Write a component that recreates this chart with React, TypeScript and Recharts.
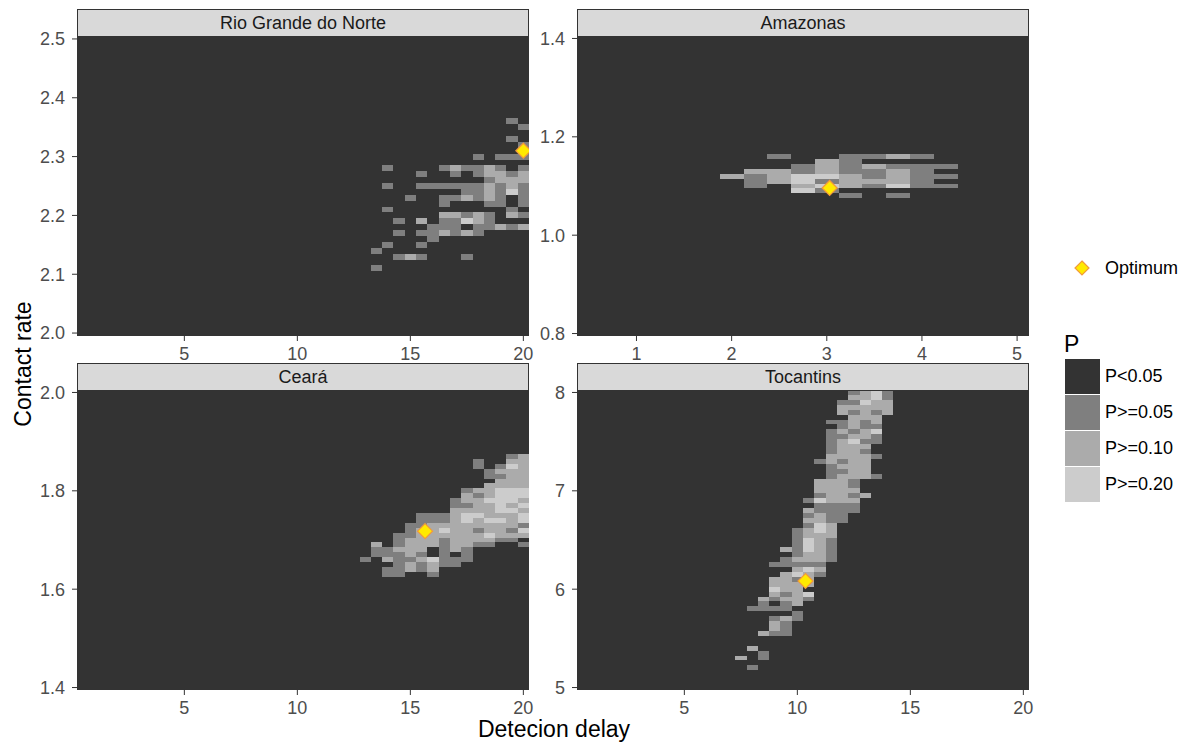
import React from "react";
import { ScatterChart, XAxis, YAxis, ReferenceArea, Scatter } from "recharts";

const FONT = '"Liberation Sans", Arial, Helvetica, sans-serif';

const levelColors = ["#333333", "#7F7F7F", "#ABABAB", "#CCCCCC"];
const levelLabels = ["P<0.05", "P>=0.05", "P>=0.10", "P>=0.20"];

// Rio Grande do Norte: one string per contact rate, one char per delay ('.' = P<0.05)
const rgnDelays = [13, 13.5, 14, 14.5, 15, 15.5, 16, 16.5, 17, 17.5, 18, 18.5, 19, 19.5, 20];
const rgnRates = [
  2.36, 2.35, 2.34, 2.33, 2.32, 2.31, 2.3, 2.29, 2.28, 2.27, 2.26, 2.25, 2.24,
  2.23, 2.22, 2.21, 2.2, 2.19, 2.18, 2.17, 2.16, 2.15, 2.14, 2.13, 2.12, 2.11,
];
const rgnRows = [
  ".............1.",
  "..............1",
  "...............",
  ".............1.",
  "..............1",
  "...............",
  "..........1.111",
  "...............",
  "..1....121121.1",
  ".....1..1.12212",
  "...........1222",
  "..1..1111112121",
  ".........112131",
  "....1..112121.1",
  ".......1...11.1",
  "..1..........1.",
  ".......22121.21",
  "...1.2.11321...",
  "......111.11212",
  "...1.112121....",
  "......1........",
  "..1..1.........",
  ".1.............",
  "...121...1.....",
  "...............",
  ".1.............",
];
const rgnOptimum = { x: 20, y: 2.31 };

// Amazonas
const amDelays = [2, 2.25, 2.5, 2.75, 3, 3.25, 3.5, 3.75, 4, 4.25];
const amRates = [1.16, 1.15, 1.14, 1.13, 1.12, 1.11, 1.1, 1.09, 1.08];
const amRows = [
  "..1..1121.",
  "....21....",
  "...1212111",
  ".22121121.",
  "2123321211",
  ".12312221.",
  ".1.2321311",
  "...31.....",
  ".....1.1..",
];
const amOptimum = { x: 3.03, y: 1.096 };

// Ceará
const ceDelays = [13, 13.5, 14, 14.5, 15, 15.5, 16, 16.5, 17, 17.5, 18, 18.5, 19, 19.5, 20];
const ceRates = [
  1.87, 1.86, 1.85, 1.84, 1.83, 1.82, 1.81, 1.8, 1.79, 1.78, 1.77, 1.76, 1.75,
  1.74, 1.73, 1.72, 1.71, 1.7, 1.69, 1.68, 1.67, 1.66, 1.65, 1.64, 1.63,
];
const ceRows = [
  ".............12",
  "..........1..22",
  "..........1.132",
  "...........1222",
  "...........1122",
  "............222",
  "...........2222",
  ".........122333",
  ".........212333",
  "........1223332",
  "........1122323",
  "........2222332",
  ".....1112332223",
  ".....1112323323",
  "....11222222221",
  "....12232212213",
  "...112222223222",
  "...12221222211.",
  ".2.122212211..1",
  ".11222.121.....",
  ".11121.1.1.....",
  "1.21123111.....",
  "...121211......",
  "..11212........",
  "..11..1........",
];
const ceOptimum = { x: 15.65, y: 1.718 };

// Tocantins
const toDelays = [7.5, 8, 8.5, 9, 9.5, 10, 10.5, 11, 11.5, 12, 12.5, 13, 13.5, 14];
const toRates = [
  8.0, 7.95, 7.9, 7.85, 7.8, 7.75, 7.7, 7.65, 7.6, 7.55, 7.5, 7.45, 7.4, 7.35,
  7.3, 7.25, 7.2, 7.15, 7.1, 7.05, 7.0, 6.95, 6.9, 6.85, 6.8, 6.75, 6.7, 6.65,
  6.6, 6.55, 6.5, 6.45, 6.4, 6.35, 6.3, 6.25, 6.2, 6.15, 6.1, 6.05, 6.0, 5.95,
  5.9, 5.85, 5.8, 5.75, 5.7, 5.65, 5.6, 5.55, 5.5, 5.45, 5.4, 5.35, 5.3, 5.25,
  5.2,
];
const toRows = [
  "..........1231",
  "..........2231",
  ".........11322",
  ".........22222",
  ".........21212",
  "..........222.",
  "........11212.",
  ".........1211.",
  "........12123.",
  "........11221.",
  "........12311.",
  "........1222..",
  "........1221..",
  "........22221.",
  ".......12122..",
  "........1222..",
  "........1122..",
  "........12221.",
  ".......2221...",
  ".......2221...",
  ".......2222...",
  ".......12212..",
  "......13222...",
  ".......1111...",
  "......21111...",
  "......1211....",
  "......2211....",
  "......132.....",
  ".....1232.....",
  ".....1222.....",
  ".....1321.....",
  ".....1321.....",
  "....21321.....",
  ".....1221.....",
  "....12221.....",
  "...11111......",
  ".....232......",
  "....2321......",
  "...2212.......",
  "...2222.......",
  "...322........",
  "...2123.......",
  "..21221.......",
  "..1.12........",
  ".1111.........",
  ".....1........",
  "...121........",
  "...21.........",
  "...21.........",
  "..211.........",
  "..............",
  "..............",
  ".2............",
  "..1...........",
  "2.1...........",
  "..............",
  ".1............",
];
const toOptimum = { x: 10.36, y: 6.083 };

const PLOT_W = 452;
const PLOT_H = 300;
const Y_W = 70;
const X_H = 32;
const M_TOP = 14;
const M_RIGHT = 16;
const STRIP_H = 27;

type Tile = { x: number; y: number; level: number };

function buildTiles(delays: number[], rates: number[], rows: string[]): Tile[] {
  const out: Tile[] = [];
  rows.forEach((row, r) => {
    for (let c = 0; c < row.length; c++) {
      const ch = row[c];
      if (ch === ".") continue;
      out.push({ x: delays[c], y: rates[r], level: Number(ch) });
    }
  });
  return out;
}

function Diamond(props: any) {
  const { cx, cy } = props;
  const r = 7.5;
  return (
    <polygon
      points={`${cx},${cy - r} ${cx + r},${cy} ${cx},${cy + r} ${cx - r},${cy}`}
      fill="#FFEA00"
      stroke="#F29A3A"
      strokeWidth={1.2}
    />
  );
}

interface PanelProps {
  title: string;
  left: number;
  top: number;
  delays: number[];
  rates: number[];
  rows: string[];
  dx: number;
  dy: number;
  xDomain: [number, number];
  yDomain: [number, number];
  xTicks: number[];
  yTicks: number[];
  yDigits: number;
  optimum: { x: number; y: number };
}

function Panel(p: PanelProps) {
  const tiles = buildTiles(p.delays, p.rates, p.rows);
  const tick = { fill: "#4D4D4D", fontSize: 18, fontFamily: FONT };
  return (
    <>
      <div style={{ position: "absolute", left: p.left - Y_W, top: p.top - M_TOP }}>
        <ScatterChart
          width={Y_W + PLOT_W + M_RIGHT}
          height={PLOT_H + X_H + M_TOP}
          margin={{ top: M_TOP, right: M_RIGHT, bottom: 0, left: 0 }}
        >
          <XAxis
            type="number"
            dataKey="x"
            domain={p.xDomain}
            ticks={p.xTicks}
            interval={0}
            allowDataOverflow
            height={X_H}
            axisLine={false}
            tickSize={5}
            tickMargin={6}
            tickLine={{ stroke: "#333333" }}
            tick={tick}
          />
          <YAxis
            type="number"
            dataKey="y"
            domain={p.yDomain}
            ticks={p.yTicks}
            interval={0}
            allowDataOverflow
            width={Y_W}
            axisLine={false}
            tickSize={5}
            tickMargin={7}
            tickLine={{ stroke: "#333333" }}
            tick={tick}
            tickFormatter={(v: number) => v.toFixed(p.yDigits)}
          />
          <ReferenceArea
            x1={p.xDomain[0]}
            x2={p.xDomain[1]}
            y1={p.yDomain[0]}
            y2={p.yDomain[1]}
            fill={levelColors[0]}
            fillOpacity={1}
            stroke="none"
          />
          {tiles.map((t, i) => (
            <ReferenceArea
              key={i}
              x1={t.x - p.dx / 2}
              x2={t.x + p.dx / 2}
              y1={t.y - p.dy / 2}
              y2={t.y + p.dy / 2}
              fill={levelColors[t.level]}
              fillOpacity={1}
              stroke="none"
              shapeRendering="crispEdges"
              ifOverflow="hidden"
            />
          ))}
          <Scatter data={[p.optimum]} shape={<Diamond />} isAnimationActive={false} />
        </ScatterChart>
      </div>
      <div
        style={{
          position: "absolute",
          left: p.left,
          top: p.top - STRIP_H,
          width: PLOT_W,
          height: STRIP_H + 1,
          boxSizing: "border-box",
          background: "#D9D9D9",
          border: "1px solid #333333",
          display: "flex",
          alignItems: "center",
          justifyContent: "center",
          fontSize: 18,
          color: "#1A1A1A",
        }}
      >
        {p.title}
      </div>
    </>
  );
}

export default function App() {
  return (
    <div
      style={{
        position: "absolute",
        left: 0,
        top: 0,
        width: 1190,
        height: 743,
        background: "#FFFFFF",
        fontFamily: FONT,
        overflow: "hidden",
      }}
    >
      <Panel
        title="Rio Grande do Norte"
        left={77}
        top={36}
        delays={rgnDelays}
        rates={rgnRates}
        rows={rgnRows}
        dx={0.5}
        dy={0.01}
        xDomain={[0.25, 20.25]}
        yDomain={[1.995, 2.505]}
        xTicks={[5, 10, 15, 20]}
        yTicks={[2.0, 2.1, 2.2, 2.3, 2.4, 2.5]}
        yDigits={1}
        optimum={rgnOptimum}
      />
      <Panel
        title="Amazonas"
        left={577}
        top={36}
        delays={amDelays}
        rates={amRates}
        rows={amRows}
        dx={0.25}
        dy={0.01}
        xDomain={[0.375, 5.125]}
        yDomain={[0.795, 1.405]}
        xTicks={[1, 2, 3, 4, 5]}
        yTicks={[0.8, 1.0, 1.2, 1.4]}
        yDigits={1}
        optimum={amOptimum}
      />
      <Panel
        title="Ceará"
        left={77}
        top={390}
        delays={ceDelays}
        rates={ceRates}
        rows={ceRows}
        dx={0.5}
        dy={0.01}
        xDomain={[0.25, 20.25]}
        yDomain={[1.395, 2.005]}
        xTicks={[5, 10, 15, 20]}
        yTicks={[1.4, 1.6, 1.8, 2.0]}
        yDigits={1}
        optimum={ceOptimum}
      />
      <Panel
        title="Tocantins"
        left={577}
        top={390}
        delays={toDelays}
        rates={toRates}
        rows={toRows}
        dx={0.5}
        dy={0.05}
        xDomain={[0.25, 20.25]}
        yDomain={[4.975, 8.025]}
        xTicks={[5, 10, 15, 20]}
        yTicks={[5, 6, 7, 8]}
        yDigits={0}
        optimum={toOptimum}
      />

      {/* axis titles */}
      <div
        style={{
          position: "absolute",
          left: 554 - 150,
          top: 716,
          width: 300,
          textAlign: "center",
          fontSize: 23,
          lineHeight: "26px",
          color: "#000",
        }}
      >
        Detecion delay
      </div>
      <div
        style={{
          position: "absolute",
          left: 23 - 100,
          top: 364 - 13,
          width: 200,
          height: 26,
          textAlign: "center",
          fontSize: 23,
          lineHeight: "26px",
          color: "#000",
          transform: "rotate(-90deg)",
        }}
      >
        Contact rate
      </div>

      {/* legend */}
      <svg style={{ position: "absolute", left: 1074, top: 260 }} width={16} height={16}>
        <polygon points="8,1 15,8 8,15 1,8" fill="#FFEA00" stroke="#F29A3A" strokeWidth={1.2} />
      </svg>
      <div
        style={{
          position: "absolute",
          left: 1105,
          top: 257,
          fontSize: 18,
          lineHeight: "22px",
          color: "#000",
        }}
      >
        Optimum
      </div>
      <div
        style={{
          position: "absolute",
          left: 1064,
          top: 332,
          fontSize: 23,
          lineHeight: "24px",
          color: "#000",
        }}
      >
        P
      </div>
      {levelLabels.map((lab, i) => (
        <React.Fragment key={lab}>
          <div
            style={{
              position: "absolute",
              left: 1065,
              top: 359 + i * 36,
              width: 35,
              height: 35,
              background: levelColors[i],
            }}
          />
          <div
            style={{
              position: "absolute",
              left: 1105,
              top: 359 + i * 36 + 6,
              fontSize: 18,
              lineHeight: "22px",
              color: "#000",
            }}
          >
            {lab}
          </div>
        </React.Fragment>
      ))}
    </div>
  );
}
